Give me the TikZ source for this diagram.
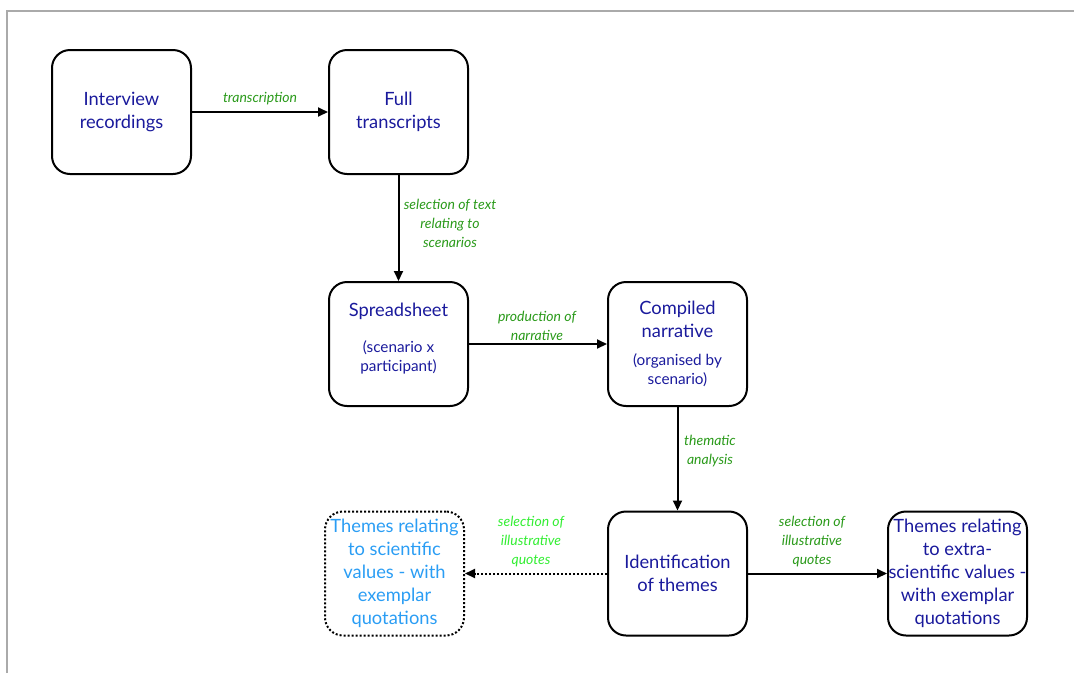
\documentclass[tikz,border=0pt]{standalone}
\usepackage{fontspec}
\setmainfont{Lato}
\usetikzlibrary{arrows.meta}
\definecolor{navy}{HTML}{1A1A9C}
\definecolor{skyb}{HTML}{2A9DF4}
\definecolor{lgreen}{HTML}{2A9A1A}
\definecolor{bgreen}{HTML}{33EE33}
\definecolor{frame}{HTML}{AAAAAA}
\tikzset{
  box/.style={draw=black, line width=2pt, rounded corners=18pt, minimum width=139pt, minimum height=124pt, align=center, text=navy, font=\fontsize{18.3}{23}\selectfont, inner sep=0pt},
  dbox/.style={box, draw=black, dotted, line width=2pt, text=skyb},
  lab/.style={text=lgreen, align=center, font=\itshape\fontsize{14}{19}\selectfont},
  arr/.style={line width=2pt, -{Triangle[length=10pt,width=9pt]}},
  darr/.style={arr, dotted},
  main/.style={align=center, text=navy, font=\fontsize{18.3}{23}\selectfont},
  sub/.style={align=center, text=navy, font=\fontsize{15.3}{19}\selectfont}
}
\begin{document}
\begin{tikzpicture}[x=1pt,y=-1pt]
\useasboundingbox (0,0) rectangle (1074,673);
\draw[frame, line width=1.5pt] (7,673) -- (7,11) -- (1074,11);
\node[box] (rec) at (121.5,112) {Interview\\recordings};
\node[box] (tra) at (398.5,112) {Full\\transcripts};
\node[box] (spr) at (398.5,344) {};
\node[main] (sprt) at (398.5,311) {Spreadsheet};
\node[sub] (sprs) at (398.5,357) {(scenario x\\participant)};
\node[box] (com) at (677.5,344) {};
\node[main] (comt) at (677.5,319) {Compiled\\narrative};
\node[sub] (coms) at (677.5,370) {(organised by\\scenario)};
\node[box] (ide) at (677.5,573.5) {Identification\\of themes};
\node[dbox] (sci) at (394.5,573.5) {Themes relating\\to scientific\\values - with\\exemplar\\quotations};
\node[box] (ext) at (957.5,573.5) {Themes relating\\to extra-\\scientific values -\\with exemplar\\quotations};

\draw[arr] (rec) -- (tra);
\draw[arr] (tra) -- (spr);
\draw[arr] (spr) -- (com);
\draw[arr] (com) -- (ide);
\draw[arr] (ide) -- (ext);
\draw[darr] (ide) -- (sci);

\node[lab] (l1) at (260,99) {transcription};
\node[lab] (l2) at (450,223) {selection of text\\relating to\\scenarios};
\node[lab] (l3) at (537,326) {production of\\narrative};
\node[lab] (l4) at (710,451) {thematic\\analysis};
\node[lab] (l5) at (812,542) {selection of\\illustrative\\quotes};
\node[lab, text=bgreen] (l6) at (531,542) {selection of\\illustrative\\quotes};
\end{tikzpicture}
\end{document}
